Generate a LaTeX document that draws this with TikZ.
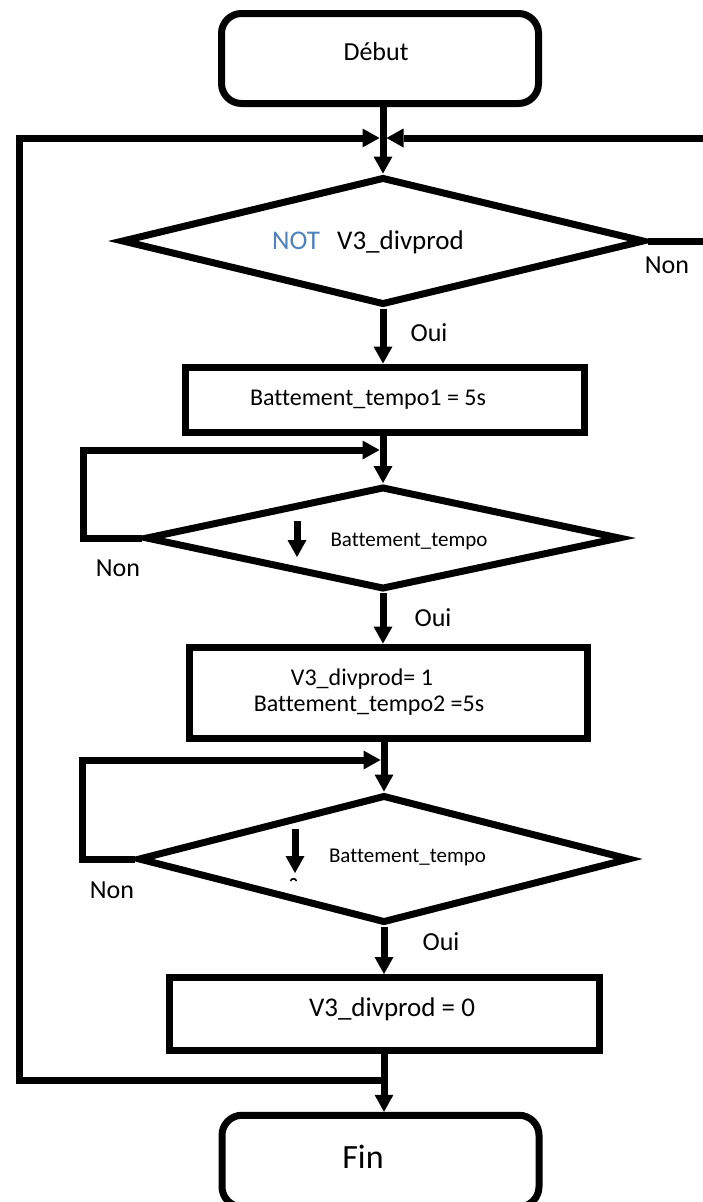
\documentclass[tikz,border=0pt]{standalone}
\usepackage{fontspec}
\setmainfont{Carlito}[Ligatures=NoCommon]
\usetikzlibrary{arrows.meta,shapes.geometric}
\definecolor{notblue}{HTML}{4F81BD}

\begin{document}
\begin{tikzpicture}[x=1pt,y=-1pt,
  lw/.style={line width=7pt},
  terminal/.style={draw, lw, rectangle, rounded corners=20pt, inner sep=0pt,
                   minimum width=317pt, minimum height=90pt},
  process/.style={draw, lw, rectangle, inner sep=0pt},
  decision/.style={draw, lw, diamond, inner sep=0pt},
  flow/.style={lw, -{Triangle[length=17pt,width=19pt,line width=0pt]}},
  tD/.style={inner sep=0pt, font=\fontsize{26pt}{31pt}\selectfont},
  tL/.style={inner sep=0pt, font=\fontsize{27pt}{32pt}\selectfont},
  tN/.style={inner sep=0pt, font=\fontsize{26pt}{31pt}\selectfont},
  tM/.style={inner sep=0pt, font=\fontsize{24pt}{29pt}\selectfont},
  tS/.style={inner sep=0pt, font=\fontsize{21pt}{25pt}\selectfont},
  tF/.style={inner sep=0pt, font=\fontsize{34pt}{40pt}\selectfont}]
\useasboundingbox (0,0) rectangle (702,1202);

% start
\node[terminal] (debut) at (380,58.5) {};
\node[tD, anchor=base] (tdebut) at (376,60) {Début};

% first test
\node[decision, minimum width=523pt, minimum height=128pt] (d1) at (383,241) {};
\node[tL, anchor=base west, text=notblue] (tnot) at (272,249) {NOT};
\node[tL, anchor=base west] (tv3a) at (337,249) {V3\_divprod};
\node[tN, anchor=base] (non1) at (667,273) {Non};
\node[tN, anchor=base] (oui1) at (429,341) {Oui};

% first timer
\node[process, minimum width=399pt, minimum height=65pt] (b1) at (385,399.5) {};
\node[tM, anchor=base] (tb1) at (368,405) {Battement\_tempo1 = 5s};

% wait for first beat
\node[decision, minimum width=475pt, minimum height=103pt] (d2) at (383,538) {};
\node[tS, anchor=base] (td2) at (409,546) {Battement\_tempo};
\node[tN, anchor=base] (non2) at (118,576) {Non};
\node[tN, anchor=base] (oui2) at (433,626) {Oui};

% output on, second timer
\node[process, minimum width=398pt, minimum height=91pt] (b2) at (388,692.5) {};
\node[tM, anchor=base] (tb2a) at (362,685) {V3\_divprod= 1};
\node[tM, anchor=base] (tb2b) at (369,711) {Battement\_tempo2 =5s};

% wait for second beat
\node[decision, minimum width=492pt, minimum height=128pt] (d3) at (384,859) {};
\node[tS, anchor=base] (td3) at (407.5,862) {Battement\_tempo};
\node[tN, anchor=base] (non3) at (112,898) {Non};
\node[tN, anchor=base] (oui3) at (441,950) {Oui};

% output off
\node[process, minimum width=430pt, minimum height=73pt] (b3) at (384,1014) {};
\node[tL, anchor=base] (tb3) at (392,1016) {V3\_divprod = 0};

% end
\node[terminal, minimum height=91.5pt] (fin) at (380.5,1161) {};
\node[tF, anchor=base] (tfin) at (363,1168) {Fin};

% junction points and loop corners
\coordinate (jtl) at (379.5,138);
\coordinate (jtr) at (386.5,138);
\coordinate (loopLT) at (19,138);
\coordinate (loopLB) at (19,1080);
\coordinate (jb) at (384,1080);
\coordinate (loopRB) at (712,241);
\coordinate (loopRT) at (712,138);
\coordinate (l2b) at (83,538);
\coordinate (l2t) at (83,450);
\coordinate (j2) at (379.5,450);
\coordinate (l3b) at (82,859);
\coordinate (l3t) at (82,760);
\coordinate (j3) at (380.5,760);

% main spine
\draw[flow] (debut.south -| d1.north) -- (d1.north);
\draw[flow] (d1.south) -- (d1.south |- b1.north);
\draw[flow] (b1.south -| d2.north) -- (d2.north);
\draw[flow] (d2.south) -- (d2.south |- b2.north);
\draw[flow] (b2.south -| d3.north) -- (d3.north);
\draw[flow] (d3.south) -- (d3.south |- b3.north);
\draw[flow] (b3.south) -- (b3.south |- fin.north);

% loops back
\draw[flow] (jb) -- (loopLB) -- (loopLT) -- (jtl);
\draw[flow] (d1.east) -- (loopRB) -- (loopRT) -- (jtr);
\draw[flow] (d2.west) -- (l2b) -- (l2t) -- (j2);
\draw[flow] (d3.west) -- (l3b) -- (l3t) -- (j3);

% falling-edge marks
\coordinate (a2s) at (297,521);
\coordinate (a2e) at (297,557);
\draw[flow] (a2s) -- (a2e);
\coordinate (a3s) at (295,829);
\coordinate (a3e) at (295,873);
\draw[flow] (a3s) -- (a3e);
\draw[line width=1.6pt] (290.5,881) .. controls (291.5,878) and (295.5,878) .. (296.5,881);
\end{tikzpicture}
\end{document}
